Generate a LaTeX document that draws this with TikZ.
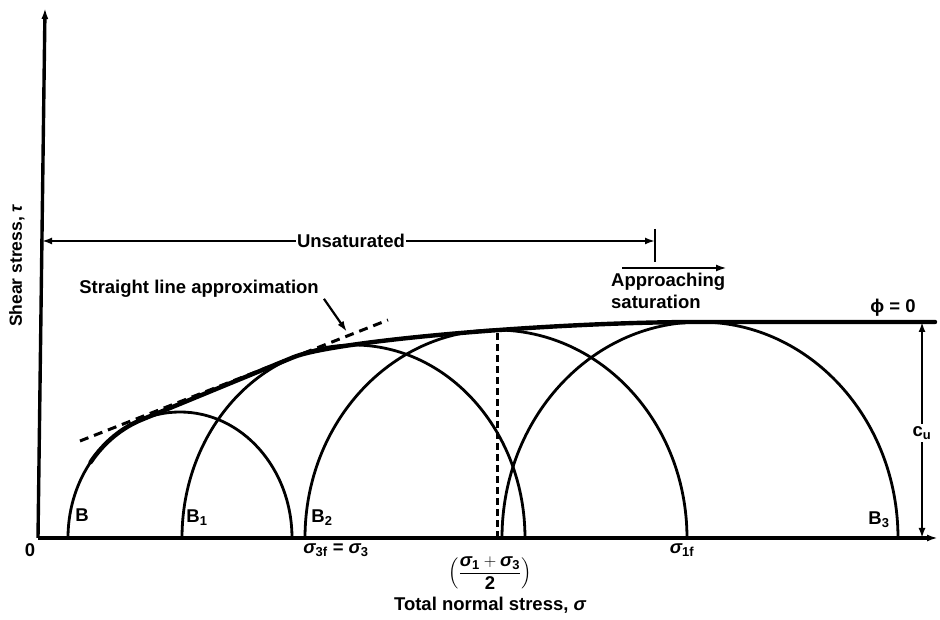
\documentclass[tikz,border=0pt]{standalone}
\usepackage{amsmath}
\usepackage{fontspec}
\setmainfont{Liberation Sans}
\usetikzlibrary{arrows.meta,positioning,calc}
\newcommand{\gr}[1]{\text{\bfseries\itshape #1}}
\tikzset{
  ax/.style={line width=3.4pt},
  kor/.style={line width=2.8pt},
  burk/.style={line width=4.4pt,line cap=round},
  szag/.style={line width=3pt,dash pattern=on 9pt off 6pt},
  nyil/.style={-{Latex[length=11pt,width=7pt]}},
  meret/.style={line width=2.4pt,{Latex[length=10pt,width=7pt]}-{Latex[length=10pt,width=7pt]}},
  lbl/.style={font=\fontsize{18.5}{22}\selectfont\bfseries,inner sep=1pt},
}

\begin{document}
\begin{tikzpicture}[x=1pt,y=1pt]
  \useasboundingbox (-38,-82) rectangle (902,538);
  % axes
  \coordinate (O) at (0,0);
  \coordinate (ytop) at (7,530);
  \coordinate (xend) at (900,0);
  \draw[ax,nyil] (O) -- (ytop);
  \draw[ax,nyil] (O) -- (xend);
  \node[lbl] (o) at (-8,-12) {0};
  \node[lbl,rotate=90,font=\fontsize{17.5}{20}\selectfont\bfseries] (ylab) at (-21,272) {Shear stress, {\itshape τ}};

  % Mohr circles
  \draw[kor] (30,0) arc[start angle=180,end angle=0,x radius=112,y radius=126];
  \draw[kor] (144,0) arc[start angle=180,end angle=0,x radius=171.5,y radius=193];
  \draw[kor] (267,0) arc[start angle=180,end angle=0,x radius=191,y radius=208];
  \draw[kor] (464,0) arc[start angle=180,end angle=0,x radius=198,y radius=216];
  \node[lbl] (b0) at (44,23) {B};
  \node[lbl] (b1) at (159,20) {B$_{\textbf{1}}$};
  \node[lbl] (b2) at (284,20) {B$_{\textbf{2}}$};
  \node[lbl] (b3) at (841,18) {B$_{\textbf{3}}$};

  % envelope
  \draw[burk] (52.6,75.8) arc[start angle=143,end angle=109,x radius=112,y radius=126]
    -- (255.5,180.8) .. controls (295.5,197.2) and (512,216) .. (662,216) -- (897,216);
  \draw[szag] (42,97) -- (350,218);
  \coordinate (slt) at (309,206);
  \node[lbl] (sla) at (161,249) {Straight line approximation};
  \draw[line width=2.2pt,nyil] ([xshift=4pt]sla.south east) -- (slt);

  % sigma labels
  \coordinate (sm) at (459,209);
  \draw[szag,dash pattern=on 7pt off 4pt] (459,0) -- (sm);
  \node[lbl] (s3) at (298,-12) {$\gr{σ}_{\textbf{3f}}$ = $\gr{σ}_{\textbf{3}}$};
  \node[lbl] (frac) at (452,-35) {$\left(\dfrac{\gr{σ}_{\textbf{1}}+\gr{σ}_{\textbf{3}}}{\textbf{2}}\right)$};
  \node[lbl] (s1) at (644,-12) {$\gr{σ}_{\textbf{1f}}$};
  \node[lbl,below=5pt of frac] (xlab) {Total normal stress, {\itshape σ}};

  % unsaturated / approaching saturation
  \coordinate (u1) at (4,297);
  \coordinate (u2) at (617,297);
  \draw[meret] (u1) -- (u2);
  \node[lbl,fill=white] (uns) at (313,297) {Unsaturated};
  \coordinate (t1) at (617,309);
  \coordinate (t2) at (617,276);
  \draw[line width=2.4pt] (t1) -- (t2);
  \coordinate (a1) at (584,270);
  \coordinate (a2) at (689,270);
  \draw[line width=2.8pt,nyil] (a1) -- (a2);
  \node[lbl,align=left,anchor=north west] (appr) at (572,266) {Approaching\\saturation};

  % phi = 0 and c_u
  \node[lbl] (phi) at (855,230) {ϕ = 0};
  \coordinate (c1) at (884,216);
  \coordinate (c2) at (884,0);
  \draw[meret] (c1) -- (c2);
  \node[lbl,fill=white,inner sep=3pt] (cu) at (884,105) {c$_{\textbf{u}}$};
\end{tikzpicture}
\end{document}
